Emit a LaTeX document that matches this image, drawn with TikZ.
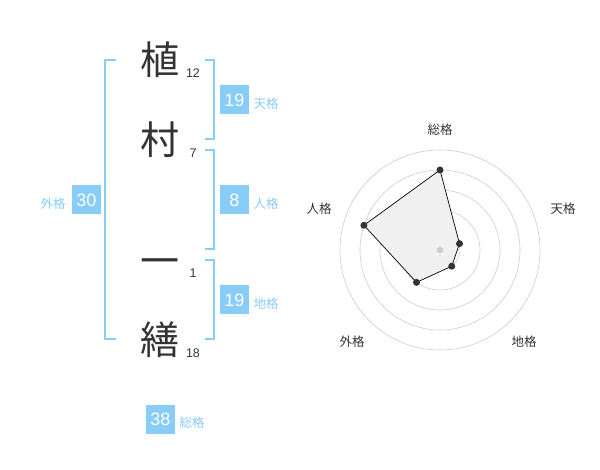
\documentclass[tikz,border=0pt]{standalone}
\usepackage{fontspec}
\setmainfont{Liberation Sans}
\newfontfamily\cjk{Noto Sans CJK JP}
\definecolor{kblue}{HTML}{88CCF8}
\definecolor{kdark}{HTML}{333333}
\definecolor{kring}{HTML}{CCCCCC}
\definecolor{kfill}{HTML}{F0F0F0}
\begin{document}
\begin{tikzpicture}[x=1pt,y=-1pt,
  kanji/.style={font=\cjk\fontsize{39}{39}\selectfont, text=kdark, inner sep=0},
  strokes/.style={font=\fontsize{12.5}{12.5}\selectfont, text=kdark, inner sep=0},
  numbox/.style={fill=kblue, text=white, minimum size=29pt, inner sep=0, font=\fontsize{18}{18}\selectfont},
  kaku/.style={font=\cjk\fontsize{12.5}{12.5}\selectfont, text=kblue, inner sep=0},
  bracket/.style={draw=kblue, line width=2pt},
  ring/.style={draw=kring, line width=0.6pt},
  axlabel/.style={font=\cjk\fontsize{12.5}{12.5}\selectfont, text=kdark, inner sep=0},
  dot/.style={fill=kdark}
]
\useasboundingbox (0,0) rectangle (600,470);

% name characters
\node[kanji] (k1) at (160,60) {植};
\node[kanji] (k2) at (160,140) {村};
\node[kanji] (k3) at (160,267) {一};
\node[kanji] (k4) at (160,340) {繕};
\node[strokes] (s1) at (193,73) {12};
\node[strokes] (s2) at (193,153) {7};
\node[strokes] (s3) at (193,273) {1};
\node[strokes] (s4) at (193,353) {18};

% brackets
\draw[bracket] (116,60) -- (105,60) -- (105,339) -- (116,339);
\draw[bracket] (205,60) -- (214,60) -- (214,139) -- (205,139);
\draw[bracket] (205,150) -- (214,150) -- (214,249) -- (205,249);
\draw[bracket] (205,260) -- (214,260) -- (214,339) -- (205,339);

% boxes and labels
\node[numbox] (ten) at (234.5,100) {19};
\node[kaku] (tenl) at (266,104) {天格};
\node[numbox] (jin) at (234.5,200) {8};
\node[kaku] (jinl) at (266,204) {人格};
\node[numbox] (chi) at (234.5,300) {19};
\node[kaku] (chil) at (266,304) {地格};
\node[numbox] (gai) at (86.5,200) {30};
\node[kaku] (gail) at (53,204) {外格};
\node[numbox] (sou) at (160.5,419.5) {38};
\node[kaku] (soul) at (192,423) {総格};

% radar chart
\coordinate (c) at (440,250);
\foreach \r in {20,40,60,80,100} \draw[ring] (c) circle (\r pt);
\coordinate (p1) at ([shift={(-90:80)}]c);
\coordinate (p2) at ([shift={(-18:20.5)}]c);
\coordinate (p3) at ([shift={(54:20)}]c);
\coordinate (p4) at ([shift={(126:40)}]c);
\coordinate (p5) at ([shift={(198:80)}]c);
\filldraw[fill=kfill, draw=black, line width=0.7pt] (p1) -- (p2) -- (p3) -- (p4) -- (p5) -- cycle;
\foreach \p in {p1,p2,p3,p4,p5} \fill[dot] (\p) circle (3.5pt);
\fill[kring] (c) circle (3.2pt);

\node[axlabel] (a1) at (440,130) {総格};
\node[axlabel] (a2) at (563,209) {天格};
\node[axlabel] (a3) at (524,342) {地格};
\node[axlabel] (a4) at (352,342) {外格};
\node[axlabel] (a5) at (319,209) {人格};
\end{tikzpicture}
\end{document}
